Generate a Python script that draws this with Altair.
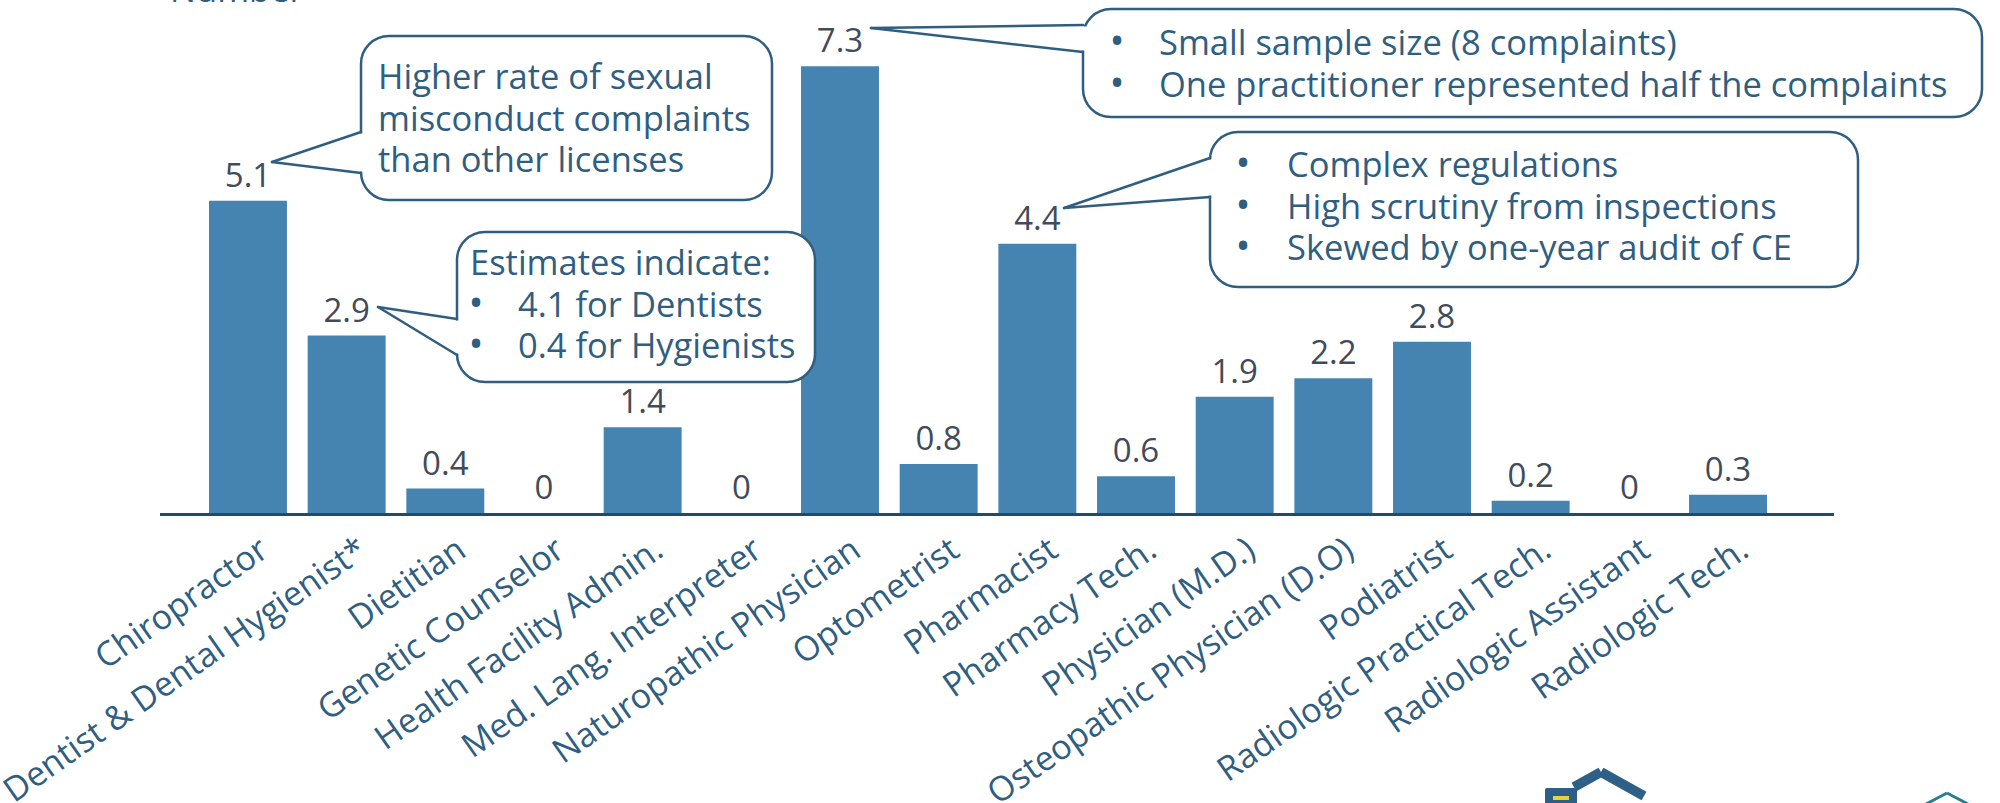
import altair as alt
import pandas as pd

# Complaint rate by license type
categories = [
    "Chiropractor", "Dentist & Dental Hygienist*", "Dietitian", "Genetic Counselor",
    "Health Facility Admin.", "Med. Lang. Interpreter", "Naturopathic Physician",
    "Optometrist", "Pharmacist", "Pharmacy Tech.", "Physician (M.D.)",
    "Osteopathic Physician (D.O)", "Podiatrist", "Radiologic Practical Tech.",
    "Radiologic Assistant", "Radiologic Tech.",
]
rates = [5.1, 2.9, 0.4, 0, 1.4, 0, 7.3, 0.8, 4.4, 0.6, 1.9, 2.2, 2.8, 0.2, 0, 0.3]

# Callout texts
note_chiro = ["Higher rate of sexual", "misconduct complaints", "than other licenses"]
note_dent_head = ["Estimates indicate:"]
note_dent_items = ["4.1 for Dentists", "0.4 for Hygienists"]
note_naturo_items = ["Small sample size (8 complaints)", "One practitioner represented half the complaints"]
note_pharm_items = ["Complex regulations", "High scrutiny from inspections", "Skewed by one-year audit of CE"]

FONT = "Open Sans"
BAR = "#4583B1"
INK = "#2F5E80"
VAL = "#414B5B"
FS = 34.5
LH = 41.5

df = pd.DataFrame({
    "license": categories,
    "rate": rates,
    "label": [f"{v:g}" for v in rates],
})

x_enc = alt.X(
    "license:N", sort=None, title=None,
    scale=alt.Scale(range=[209, 1767], paddingInner=0.21, paddingOuter=0),
    axis=alt.Axis(domain=False, ticks=False, labelAngle=-35, labelAlign="right",
                  labelBaseline="middle", labelFont=FONT, labelFontSize=34,
                  labelColor=INK, labelPadding=33, labelOffset=17, labelLimit=0),
)
y_enc = alt.Y("rate:Q", title=None, scale=alt.Scale(domain=[0, 8.382], nice=False, zero=True),
              axis=None)

bars = alt.Chart(df).mark_bar(color=BAR).encode(x=x_enc, y=y_enc)
values = alt.Chart(df).mark_text(
    font=FONT, fontSize=33, color=VAL, baseline="alphabetic", dy=-14
).encode(x=x_enc, y=y_enc, text="label:N")

one = alt.Data(values=[{"k": 0}])

# Baseline rule under the bars
axis_line = alt.Chart(one).mark_rule(color="#1D4D6E", strokeWidth=3).encode(
    x=alt.value(160), x2=alt.value(1834), y=alt.value(514.5), y2=alt.value(514.5))

# Partially visible axis title at the top edge
ytitle = alt.Chart(one).mark_text(
    text="Number", font=FONT, fontSize=FS, color=INK, align="left", baseline="alphabetic"
).encode(x=alt.value(170), y=alt.value(2))


def text_block(lines, x, y, align="left", size=FS):
    return alt.Chart(alt.Data(values=[{"t": "\n".join(lines)}])).mark_text(
        font=FONT, fontSize=size, color=INK, align=align, baseline="alphabetic",
        lineHeight=LH, lineBreak="\n",
    ).encode(x=alt.value(x), y=alt.value(y), text="t:N")


def bullets(n, x, y):
    return text_block(["•"] * n, x, y, align="center", size=40)


def bubble(box, tip, base):
    x0, y0, x1, y1 = box
    rect = alt.Chart(one).mark_rect(
        fill="white", stroke=INK, strokeWidth=2.5, cornerRadius=28
    ).encode(x=alt.value(x0), x2=alt.value(x1), y=alt.value(y0), y2=alt.value(y1))
    gap = alt.Chart(one).mark_rule(color="white", strokeWidth=6).encode(
        x=alt.value(x0), x2=alt.value(x0), y=alt.value(base[0] + 1.5), y2=alt.value(base[1] - 1.5))
    legs = [
        alt.Chart(one).mark_rule(color=INK, strokeWidth=2.5, strokeCap="round").encode(
            x=alt.value(tip[0]), y=alt.value(tip[1]), x2=alt.value(x0), y2=alt.value(b))
        for b in base
    ]
    return [rect, gap] + legs


layers = [bars, values, axis_line, ytitle]

layers += bubble((361, 36, 772, 200), (272, 162), (132, 173))
layers += [text_block(note_chiro, 378, 89)]

layers += bubble((457, 232, 815, 382), (378, 307), (319, 355))
layers += [text_block(note_dent_head, 470, 275),
           bullets(len(note_dent_items), 476, 275 + LH),
           text_block(note_dent_items, 518, 275 + LH)]

layers += bubble((1083, 9, 1982, 117), (871, 28), (25, 52))
layers += [bullets(len(note_naturo_items), 1117, 55),
           text_block(note_naturo_items, 1159, 55)]

layers += bubble((1210, 132, 1858, 287), (1064, 208), (158, 197))
layers += [bullets(len(note_pharm_items), 1243, 177),
           text_block(note_pharm_items, 1287, 177)]

# Footer logo marks
logo = [
    alt.Chart(one).mark_rect(color="#2E5F86", cornerRadius=2).encode(
        x=alt.value(1545), x2=alt.value(1577), y=alt.value(788), y2=alt.value(806)),
    alt.Chart(one).mark_rect(color="#E8D43A").encode(
        x=alt.value(1553), x2=alt.value(1569), y=alt.value(796), y2=alt.value(800)),
    alt.Chart(one).mark_rule(color="#2E5F86", strokeWidth=10).encode(
        x=alt.value(1574), y=alt.value(787), x2=alt.value(1601), y2=alt.value(772)),
    alt.Chart(one).mark_rule(color="#2E5F86", strokeWidth=10).encode(
        x=alt.value(1601), y=alt.value(772), x2=alt.value(1644), y2=alt.value(796)),
    alt.Chart(one).mark_rule(color="#2A7E8E", strokeWidth=3).encode(
        x=alt.value(1926), y=alt.value(804), x2=alt.value(1947), y2=alt.value(793)),
    alt.Chart(one).mark_rule(color="#2A7E8E", strokeWidth=3).encode(
        x=alt.value(1947), y=alt.value(793), x2=alt.value(1968), y2=alt.value(804)),
]
layers += logo

chart = alt.layer(*layers).properties(
    width=2000, height=513,
    autosize=alt.AutoSizeParams(type="none"),
    padding={"left": 0, "top": 0, "right": 0, "bottom": 290},
    background="white",
).configure_view(stroke=None)

chart.save("out.html", embed_options={"renderer": "svg", "actions": False})
